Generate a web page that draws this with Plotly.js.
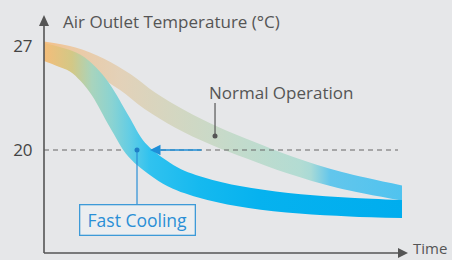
<!DOCTYPE html>
<html><head><meta charset="utf-8">
<script src="https://cdn.plot.ly/plotly-3.0.1.min.js"></script>
<style>html,body{margin:0;padding:0;background:#e6e7e9;} #chart{width:452px;height:260px;}</style>
</head><body><div id="chart"></div>
<script>
// ---- data ----
const normalTime = [0, 8.1, 15.64, 22.63, 29.61, 37.99, 47.77, 57.54, 68.72, 82.68, 100];
const normalTemp = [26.73, 26.33, 25.59, 24.58, 23.30, 22.09, 20.94, 20.0, 18.99, 17.98, 17.11];
const fastTime = [0, 4.47, 8.66, 12.29, 15.92, 20.95, 25.98, 32.40, 37.15, 46.37, 57.54, 71.51, 85.47, 100];
const fastTemp = [26.60, 26.26, 25.86, 25.12, 24.04, 21.95, 20.00, 18.72, 18.05, 17.31, 16.77, 16.37, 16.16, 16.03];
const tickVals = [20, 27];
const tickLabels = ['20', '27'];
const targetTemp = 20;
const targetLineEnd = 98.9;
const normalLabel = 'Normal Operation';
const fastLabel = 'Fast Cooling';
const yTitle = 'Air Outlet Temperature (°C)';
const xTitle = 'Time';

// ---- geometry / style ----
const M = {l: 44, r: 50, t: 14, b: 7};
const WIDTH = 452, HEIGHT = 260;
const xRange = [0, 100], yRange = [13.067, 29.154];
const kx = (WIDTH - M.l - M.r) / (xRange[1] - xRange[0]);
const ky = (HEIGHT - M.t - M.b) / (yRange[1] - yRange[0]);
const FONT = '"Open Sans", Lato, sans-serif';

function interp(prof, t) {
  if (t <= prof[0][0]) return prof[0][1];
  for (let i = 1; i < prof.length; i++) {
    if (t <= prof[i][0]) {
      const a = prof[i-1], b = prof[i];
      return a[1] + (b[1]-a[1]) * (t-a[0]) / (b[0]-a[0]);
    }
  }
  return prof[prof.length-1][1];
}
// band edges: offset the centre line along its normal (in pixel space)
function band(ts, Ts, prof) {
  const n = ts.length, up = {x: [], y: []}, lo = {x: [], y: []};
  for (let i = 0; i < n; i++) {
    const i0 = Math.max(0, i-1), i1 = Math.min(n-1, i+1);
    const dx = (ts[i1]-ts[i0]) * kx, dy = (Ts[i1]-Ts[i0]) * ky;
    const len = Math.hypot(dx, dy);
    const w = interp(prof, ts[i]) / 2;
    let ox = -dy / len * w, oy = dx / len * w;
    if (i === 0 || i === n-1) { ox = 0; oy = w; }
    up.x.push(ts[i] + ox / kx); up.y.push(Ts[i] + oy / ky);
    lo.x.push(ts[i] - ox / kx); lo.y.push(Ts[i] - oy / ky);
  }
  return {up, lo};
}
const nb = band(normalTime, normalTemp, [[0,17],[35,20],[100,15]]);
const fb = band(fastTime, fastTemp, [[0,18],[20,22],[40,21],[100,18]]);

const normalScale = [[0,'#f4c087'],[0.073,'#ecc9a3'],[0.21,'#e3d1b8'],[0.38,'#d2d7c2'],[0.55,'#c2dbcc'],[0.715,'#b3dcd3'],[0.745,'#a9dad6'],[0.80,'#62c6ec'],[1,'#50c3ef']];
const fastScale = [[0,'#f4bd7a'],[0.078,'#d3c886'],[0.134,'#a8d4bd'],[0.19,'#8ad3d2'],[0.24,'#62cde5'],[0.296,'#30c2ef'],[0.436,'#15b9ef'],[0.6,'#06b2ef'],[1,'#00adee']];

const edge = {mode: 'lines', line: {width: 0, shape: 'spline'}, hoverinfo: 'skip', showlegend: false};
const nDot = 6, fDot = 6;
const grey = '#555555', blue = '#2a8fd6';
const traces = [
  Object.assign({x: nb.lo.x, y: nb.lo.y}, edge),
  Object.assign({x: nb.up.x, y: nb.up.y, fill: 'tonexty', fillgradient: {type: 'horizontal', start: 0, stop: 100, colorscale: normalScale}}, edge),
  {x: [0, targetLineEnd], y: [targetTemp, targetTemp], mode: 'lines', line: {color: '#666', width: 1.2, dash: '5px,4px'}, hoverinfo: 'skip', showlegend: false},
  Object.assign({x: fb.lo.x, y: fb.lo.y}, edge),
  Object.assign({x: fb.up.x, y: fb.up.y, fill: 'tonexty', fillgradient: {type: 'horizontal', start: 0, stop: 100, colorscale: fastScale}}, edge),
  {x: [normalTime[nDot], normalTime[nDot]], y: [normalTemp[nDot], normalTemp[nDot] + 33/ky], mode: 'lines', line: {color: grey, width: 1.2}, hoverinfo: 'skip', showlegend: false},
  {x: [normalTime[nDot]], y: [normalTemp[nDot]], mode: 'markers', marker: {color: grey, size: 5}, hoverinfo: 'skip', showlegend: false},
  {x: [fastTime[fDot], fastTime[fDot]], y: [fastTemp[fDot], fastTemp[fDot] - 55/ky], mode: 'lines', line: {color: blue, width: 1.2}, hoverinfo: 'skip', showlegend: false},
  {x: [fastTime[fDot]], y: [fastTemp[fDot]], mode: 'markers', marker: {color: '#1f7fc6', size: 5}, hoverinfo: 'skip', showlegend: false}
];

const W = WIDTH - M.l - M.r, H = HEIGHT - M.t - M.b;
const px = v => v / W, py = v => v / H;
const shapes = [
  {type: 'line', xref: 'paper', yref: 'paper', x0: 0, x1: 0, y0: 0, y1: py(228), line: {color: grey, width: 1.6}},
  {type: 'path', xref: 'paper', yref: 'paper', path: `M${-px(5)},${py(227)} L${px(5)},${py(227)} L0,${py(238)} Z`, fillcolor: grey, line: {width: 0}},
  {type: 'line', xref: 'paper', yref: 'paper', x0: 0, x1: px(355), y0: 0, y1: 0, line: {color: grey, width: 1.6}},
  {type: 'path', xref: 'paper', yref: 'paper', path: `M${px(354)},${py(5)} L${px(354)},${-py(5)} L${px(364)},0 Z`, fillcolor: grey, line: {width: 0}}
];

const annotations = [
  {x: 29.61, y: targetTemp, ax: 44.41, ay: targetTemp, axref: 'x', ayref: 'y', xref: 'x', yref: 'y', text: '', showarrow: true, arrowhead: 2, arrowsize: 1.4, arrowwidth: 1.5, arrowcolor: '#1e8fd8'},
  {xref: 'paper', yref: 'paper', x: px(17), y: py(232), xanchor: 'left', yanchor: 'middle', text: yTitle, showarrow: false, font: {family: FONT, size: 17, color: grey}},
  {xref: 'x', yref: 'y', x: 45.4, y: 23.9, xanchor: 'left', yanchor: 'middle', text: normalLabel, showarrow: false, font: {family: FONT, size: 17, color: grey}},
  {xref: 'x', yref: 'y', x: fastTime[fDot], y: fastTemp[fDot] - 69.5/ky, xanchor: 'center', yanchor: 'middle', text: fastLabel, showarrow: false, width: 112, height: 27, bordercolor: '#3d9ad8', borderwidth: 1.3, bgcolor: '#eceef0', font: {family: FONT, size: 17.5, color: blue}},
  {xref: 'paper', yref: 'paper', x: px(367), y: -py(6.5), xanchor: 'left', yanchor: 'bottom', text: xTitle, showarrow: false, font: {family: FONT, size: 15, color: grey}}
];

const layout = {
  width: WIDTH, height: HEIGHT, margin: M,
  paper_bgcolor: '#e6e7e9', plot_bgcolor: '#e6e7e9',
  showlegend: false,
  xaxis: {range: xRange, showticklabels: false, showline: false, zeroline: false, showgrid: false, ticks: ''},
  yaxis: {range: yRange, tickvals: tickVals, ticktext: tickLabels, showline: false, zeroline: false, showgrid: false,
          ticks: 'outside', ticklen: 7, tickcolor: 'rgba(0,0,0,0)', tickfont: {family: FONT, size: 17, color: '#444'}},
  shapes, annotations
};
Plotly.newPlot('chart', traces, layout, {displayModeBar: false, staticPlot: true});
</script></body></html>
